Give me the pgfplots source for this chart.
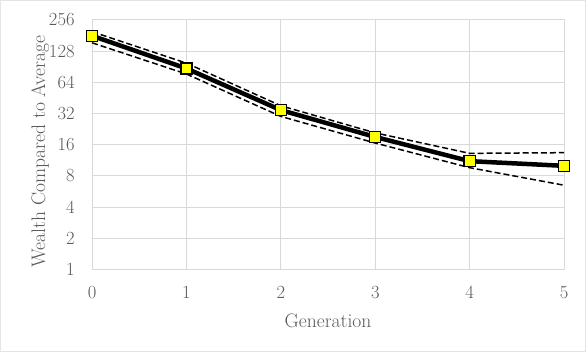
\documentclass[border=0pt]{standalone}
\usepackage{pgfplots}
\pgfplotsset{compat=1.18}
\definecolor{txtgray}{HTML}{595959}
\definecolor{gridgray}{HTML}{D9D9D9}
\definecolor{mkyellow}{HTML}{FFFF00}
\begin{document}
\begin{tikzpicture}[x=1pt,y=1pt]
\draw[gridgray!70, line width=0.8pt] (0.5,0.5) rectangle (584.5,350.5);
\begin{axis}[
  at={(92pt,82pt)}, anchor=south west,
  scale only axis, width=471pt, height=249pt,
  xmin=0, xmax=5, ymode=log, log basis y=2,
  ymin=1, ymax=256,
  xtick={0,1,2,3,4,5},
  xticklabels={0,1,2,3,4,5},
  ytick={1,2,4,8,16,32,64,128,256},
  yticklabels={1,2,4,8,16,32,64,128,256},
  /pgf/number format/assume math mode=true,
  grid=major,
  major grid style={gridgray, line width=1pt},
  axis line style={gridgray, line width=1pt},
  tick style={draw=none},
  ticklabel style={font=\fontsize{18.5}{22}\selectfont, text=txtgray},
  yticklabel style={xshift=-14pt},
  xticklabel style={yshift=-13pt},
  xlabel={Generation},
  ylabel={Wealth Compared to Average},
  label style={font=\fontsize{19.5}{24}\selectfont, text=txtgray},
  xlabel style={at={(axis description cs:0.5,-0.205)}, anchor=center},
  ylabel style={at={(axis description cs:-0.110,0.472)}, anchor=center, rotate=0},
  clip=false,
]
\addplot[black, line width=1.5pt, dash pattern=on 6pt off 3pt] coordinates {
(0,197) (1,98) (2,38) (3,20.8) (4,13.2) (5,13.4)};
\addplot[black, line width=1.5pt, dash pattern=on 6pt off 3pt] coordinates {
(0,154) (1,77) (2,30) (3,16.6) (4,9.6) (5,6.5)};
\addplot[black, line width=4.5pt, mark=square*, mark size=5.5pt,
  mark options={fill=mkyellow, draw=black, line width=1.3pt, solid}] coordinates {
(0,180) (1,87) (2,34.5) (3,19) (4,11.1) (5,10)};
\end{axis}
\end{tikzpicture}
\end{document}
